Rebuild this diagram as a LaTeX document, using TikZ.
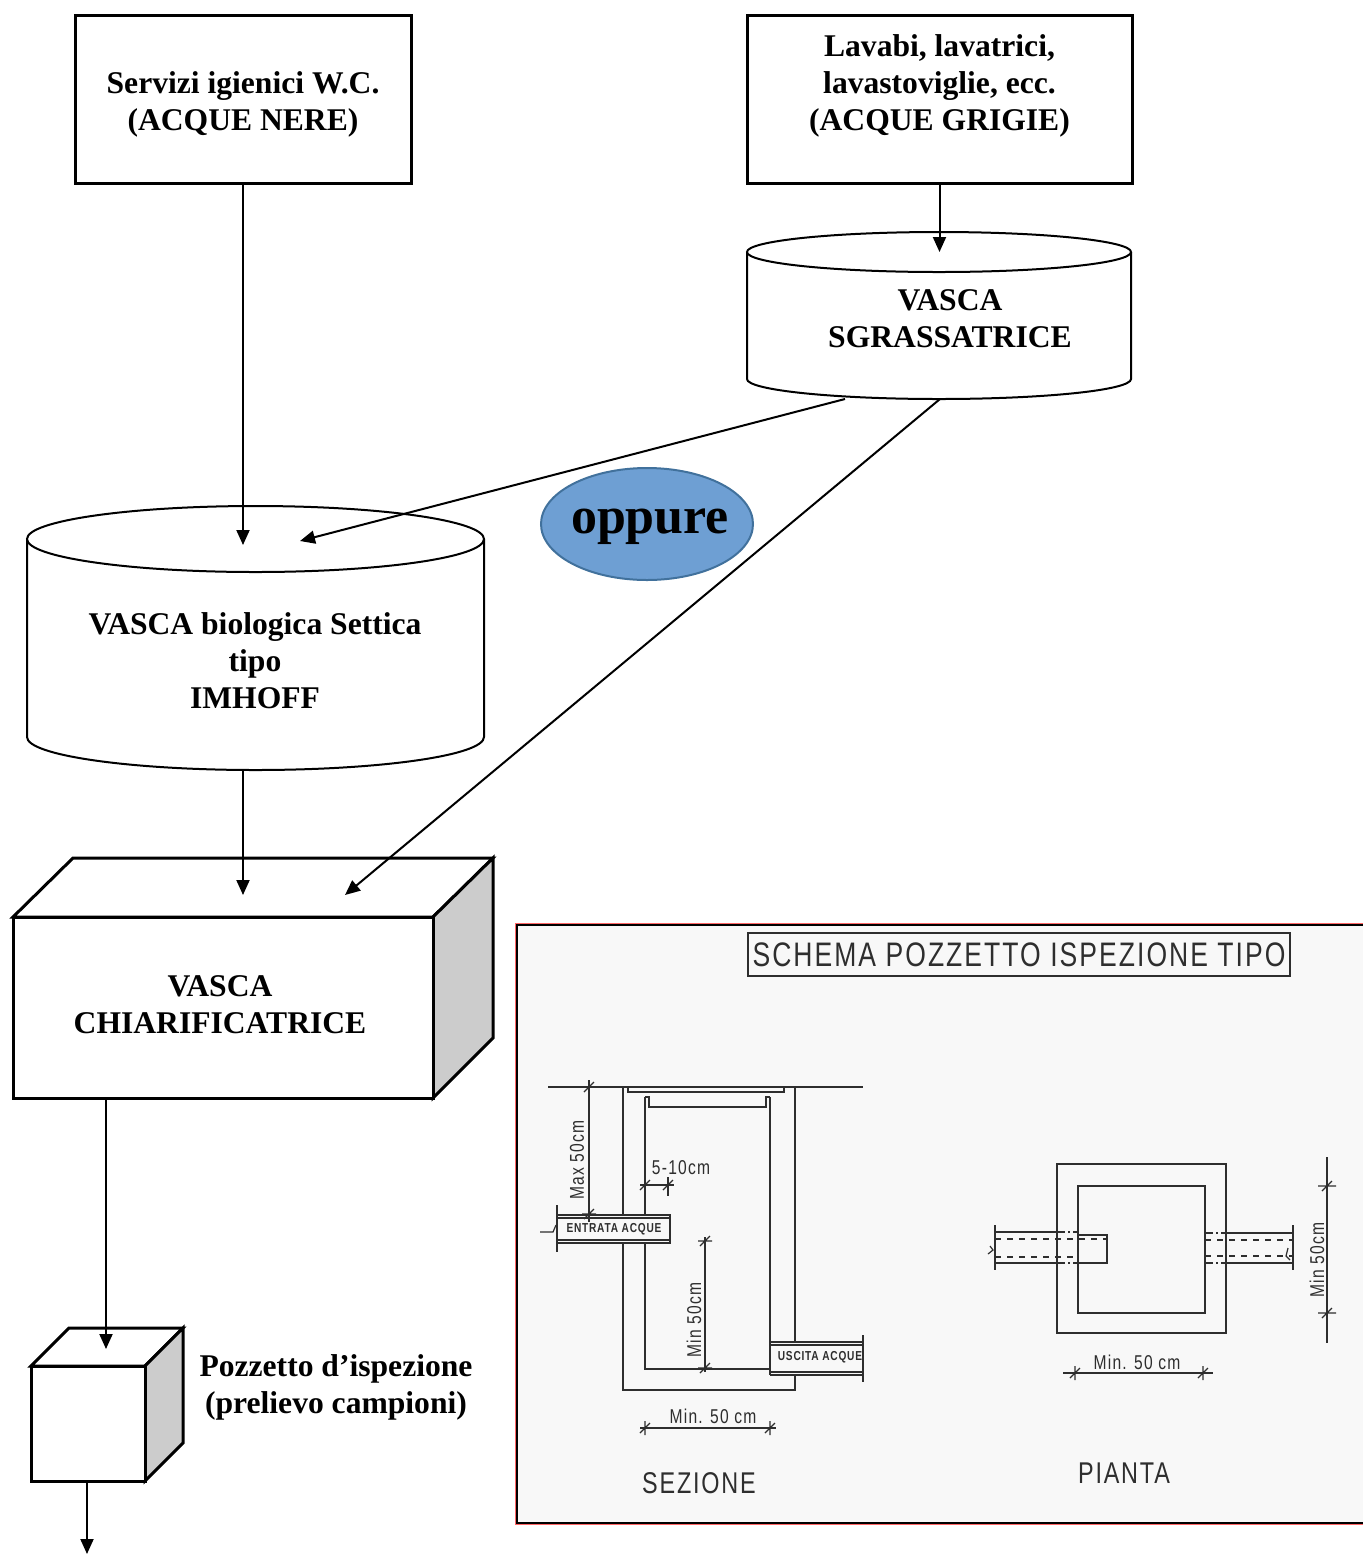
\documentclass[tikz,border=0pt]{standalone}
\usepackage{fontspec}
\setmainfont{Liberation Serif}
\newfontfamily\techfont[FakeStretch=0.78,LetterSpace=6]{Liberation Sans}
\usetikzlibrary{arrows.meta}
\definecolor{oppureblue}{HTML}{6E9FD3}
\definecolor{oppureedge}{HTML}{41719C}
\definecolor{sidegray}{HTML}{CCCCCC}
\definecolor{inkgray}{HTML}{2E2E2E}
\definecolor{paper}{HTML}{F8F8F8}
\tikzset{
  boxline/.style={line width=1.5pt},
  tankline/.style={line width=1pt},
  flow/.style={line width=1pt,-{Triangle[length=7.5pt,width=6.5pt]}},
  boxtext/.style={font=\bfseries\fontsize{15.8}{18.5}\selectfont,align=center},
  ink/.style={draw=inkgray,line width=0.6pt},
  tech/.style={text=inkgray,inner sep=0pt,font=\techfont\fontsize{#1}{#1}\selectfont},
}

\begin{document}
\begin{tikzpicture}[x=0.5pt,y=-0.5pt]
\useasboundingbox (0,0) rectangle (1363,1555);
% Sources
\node[draw,boxline,minimum width=168pt,minimum height=84pt] (nere) at (243,99) {};
\node[boxtext] (nereText) at (243,104) {Servizi igienici W.C.\\(ACQUE NERE)};
\node[draw,boxline,minimum width=192.5pt,minimum height=84pt] (grigie) at (939.5,99) {};
\node[boxtext] (grigieText) at (939.5,86) {Lavabi, lavatrici,\\lavastoviglie, ecc.\\(ACQUE GRIGIE)};
% Vasca sgrassatrice
\draw[tankline,fill=white] (747,252) -- (747,379) arc[start angle=180,end angle=0,x radius=192,y radius=20] -- (1131,252);
\draw[tankline,fill=white] (939,252) ellipse[x radius=192,y radius=20];
\node[boxtext] (sgrText) at (950,319) {VASCA\\SGRASSATRICE};
\coordinate (sgrIn) at (939.5,252);
\coordinate (sgrOutA) at (845,399);
\coordinate (sgrOutB) at (940,399);
% Vasca Imhoff
\draw[tankline,fill=white] (27,539) -- (27,737) arc[start angle=180,end angle=0,x radius=228.5,y radius=33] -- (484,539);
\draw[tankline,fill=white] (255.5,539) ellipse[x radius=228.5,y radius=33];
\node[boxtext] (imhoffText) at (255,661) {VASCA biologica Settica\\tipo\\IMHOFF};
\coordinate (imhoffInA) at (243,545);
\coordinate (imhoffInB) at (300,541);
\coordinate (imhoffOut) at (243,770);
% oppure
\draw[fill=oppureblue,draw=oppureedge,line width=1pt] (647,524) ellipse[x radius=106,y radius=56];
\node[font=\bfseries\fontsize{26}{30}\selectfont] (oppure) at (650,527) {oppure};
% Vasca chiarificatrice
\draw[boxline,fill=white] (13,917) -- (73,858) -- (493,858) -- (433,917) -- cycle;
\draw[boxline,fill=sidegray] (433,917) -- (493,858) -- (493,1038) -- (433,1098) -- cycle;
\draw[boxline,fill=white] (13,917) rectangle (433,1098);
\node[boxtext] (chiarText) at (220,1005) {VASCA\\CHIARIFICATRICE};
\coordinate (chiarInA) at (243,895);
\coordinate (chiarInB) at (345,895);
\coordinate (chiarOut) at (106,1098);
% Pozzetto
\draw[boxline,fill=white] (31,1366) -- (69,1328) -- (183,1328) -- (145,1366) -- cycle;
\draw[boxline,fill=sidegray] (145,1366) -- (183,1328) -- (183,1443) -- (145,1481) -- cycle;
\draw[boxline,fill=white] (31,1366) rectangle (145,1481);
\node[boxtext] (pozzText) at (336,1387) {Pozzetto d’ispezione\\(prelievo campioni)};
\coordinate (pozzIn) at (106,1349);
\coordinate (pozzOut) at (87,1481);
\coordinate (scarico) at (87,1554);
% Connectors
\draw[flow] (nere.south) -- (imhoffInA);
\draw[flow] (grigie.south) -- (sgrIn);
\draw[flow] (sgrOutA) -- (imhoffInB);
\draw[flow] (sgrOutB) -- (chiarInB);
\draw[flow] (imhoffOut) -- (chiarInA);
\draw[flow] (chiarOut) -- (pozzIn);
\draw[flow] (pozzOut) -- (scarico);

% Schema pozzetto ispezione tipo
\fill[paper] (517,925) rectangle (1363,1523);
\draw[red!60,line width=1.2pt] (516,924) rectangle (1366,1524);
\draw[black,line width=0.8pt] (517,925) rectangle (1366,1523);
\draw[ink,line width=1.2pt] (748,933) rectangle (1290,976);
\node[tech=17] (titolo) at (1019,955) {SCHEMA POZZETTO ISPEZIONE TIPO};
% sezione: terreno e pareti
\draw[ink] (548,1087) -- (863,1087);
\draw[ink] (623,1087) -- (623,1215);
\draw[ink] (623,1243) -- (623,1390) -- (795,1390) -- (795,1375);
\draw[ink] (795,1342) -- (795,1087);
\draw[ink] (645,1097) -- (645,1215);
\draw[ink] (645,1243) -- (645,1369) -- (770,1369);
\draw[ink] (770,1097) -- (770,1342);
% sezione: chiusino
\draw[ink] (628,1087) -- (628,1092) -- (784,1092) -- (784,1087);
\draw[ink] (645,1097) -- (649,1097) -- (649,1107) -- (766,1107) -- (766,1097) -- (770,1097);
% sezione: tubi
\draw[ink] (557,1215) -- (670,1215) -- (670,1243) -- (557,1243);
\draw[ink] (557,1218) -- (670,1218);
\draw[ink] (557,1240) -- (670,1240);
\draw[ink] (557,1205) -- (557,1252);
\draw[ink] (540,1232) -- (553,1232) -- (556,1225);
\node[tech=6.5,font=\techfont\bfseries\fontsize{6.5}{6.5}\selectfont] (entrata) at (614,1229) {ENTRATA ACQUE};
\draw[ink] (770,1342) -- (863,1342);
\draw[ink] (770,1345) -- (863,1345);
\draw[ink] (770,1372) -- (863,1372);
\draw[ink] (770,1375) -- (863,1375);
\draw[ink] (770,1342) -- (770,1375);
\draw[ink] (863,1335) -- (863,1382);
\node[tech=6.5,font=\techfont\bfseries\fontsize{6.5}{6.5}\selectfont] (uscita) at (820,1357) {USCITA ACQUE};
% sezione: quote
\draw[ink] (589,1080) -- (589,1222);
\draw[ink] (640,1185) -- (674,1185);
\draw[ink] (668,1177) -- (668,1196);
\draw[ink] (705,1237) -- (705,1372);
\draw[ink] (640,1428) -- (776,1428);
\foreach \p in {(589,1087),(589,1214),(705,1241),(705,1368)}
  \draw[ink] \p ++(-7,0) -- ++(14,0) \p ++(-5,5) -- ++(10,-10);
\foreach \p in {(645,1185),(668,1185),(645,1428),(770,1428)}
  \draw[ink] \p ++(0,-7) -- ++(0,14) \p ++(-5,5) -- ++(10,-10);
\node[tech=10,rotate=90] (maxQuota) at (577,1160) {Max 50cm};
\node[tech=10] (spessore) at (681,1168) {5-10cm};
\node[tech=10,rotate=90] (minQuota) at (694,1320) {Min 50cm};
\node[tech=10] (sezLarg) at (713,1416) {Min. 50 cm};
\node[tech=15] (sezione) at (699,1483) {SEZIONE};
% pianta
\draw[ink] (1057,1164) rectangle (1226,1333);
\draw[ink] (1078,1186) rectangle (1205,1313);
\draw[ink] (995,1232) -- (1057,1232);
\draw[ink] (995,1263) -- (1057,1263);
\draw[ink,dash pattern=on 4pt off 1.5pt on 1pt off 1.5pt] (1057,1232) -- (1078,1232);
\draw[ink,dash pattern=on 4pt off 1.5pt on 1pt off 1.5pt] (1057,1263) -- (1078,1263);
\draw[ink] (1078,1235) -- (1107,1235) -- (1107,1263) -- (1078,1263);
\draw[ink,dashed] (995,1239) -- (1107,1239);
\draw[ink,dashed] (995,1257) -- (1078,1257);
\draw[ink] (995,1225) -- (995,1270);
\draw[ink] (988,1254) -- (993,1250) -- (990,1246);
\draw[ink] (1226,1233) -- (1293,1233);
\draw[ink] (1226,1263) -- (1293,1263);
\draw[ink,dash pattern=on 4pt off 1.5pt on 1pt off 1.5pt] (1205,1233) -- (1226,1233);
\draw[ink,dash pattern=on 4pt off 1.5pt on 1pt off 1.5pt] (1205,1263) -- (1226,1263);
\draw[ink,dashed] (1205,1240) -- (1293,1240);
\draw[ink,dashed] (1205,1256) -- (1293,1256);
\draw[ink] (1293,1225) -- (1293,1270);
\draw[ink] (1288,1248) -- (1286,1256) -- (1290,1260);
\draw[ink] (1327,1157) -- (1327,1343);
\draw[ink] (1063,1373) -- (1213,1373);
\foreach \p in {(1327,1186),(1327,1313)}
  \draw[ink] \p ++(-9,0) -- ++(18,0) \p ++(-5,5) -- ++(10,-10);
\foreach \p in {(1075,1373),(1203,1373)}
  \draw[ink] \p ++(0,-7) -- ++(0,14) \p ++(-5,5) -- ++(10,-10);
\node[tech=10,rotate=90] (piaQuota) at (1317,1260) {Min 50cm};
\node[tech=10] (piaLarg) at (1137,1362) {Min. 50 cm};
\node[tech=15] (pianta) at (1124,1473) {PIANTA};
\end{tikzpicture}
\end{document}
